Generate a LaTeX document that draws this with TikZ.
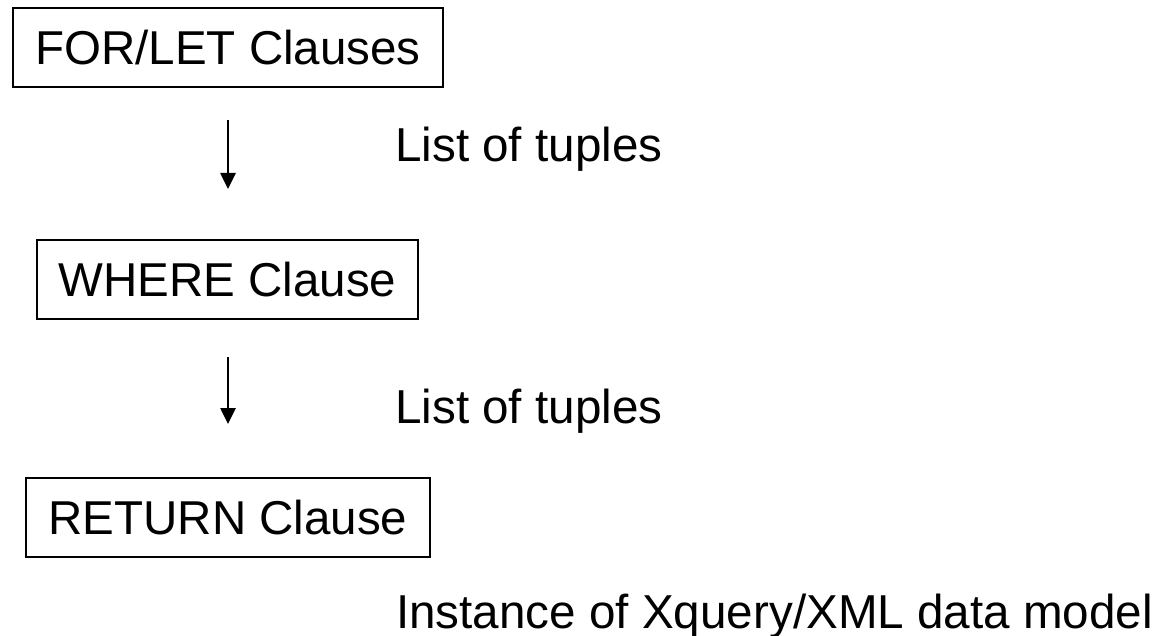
\documentclass[tikz,border=0pt]{standalone}
\usepackage{fontspec}
\setmainfont{Liberation Sans}
\usetikzlibrary{arrows.meta}
\begin{document}
\begin{tikzpicture}[x=1pt,y=-1pt,
  clausebox/.style={draw=black,line width=2pt,inner sep=0pt,
    minimum height=79pt,font=\fontsize{47.5}{56}\selectfont},
  flowlabel/.style={anchor=base west,inner sep=0pt,font=\fontsize{47.6}{56}\selectfont},
  flowarrow/.style={line width=2.6pt,-{Triangle[width=15pt,length=16pt]}}]
  \useasboundingbox (0,0) rectangle (1172,636);

  % clause boxes
  \node[clausebox,minimum width=430pt] (forlet) at (228,48) {FOR/LET Clauses};
  \node[clausebox,minimum width=381pt] (where) at (227.5,279.5) {WHERE Clause};
  \node[clausebox,minimum width=404pt] (return) at (228,517.5) {RETURN Clause};

  % arrows between clauses
  \draw[flowarrow,shorten <=32pt,shorten >=50pt] (forlet.south) -- (forlet.south |- where.north);
  \draw[flowarrow,shorten <=37pt,shorten >=53pt] (where.south -| forlet.south) -- (forlet.south |- return.north);

  % what flows between the clauses
  \node[flowlabel] (tuples1) at (395,162) {List of tuples};
  \node[flowlabel] (tuples2) at (395,423) {List of tuples};
  \node[flowlabel] (result) at (396,628) {Instance of Xquery/XML data model};
\end{tikzpicture}
\end{document}
